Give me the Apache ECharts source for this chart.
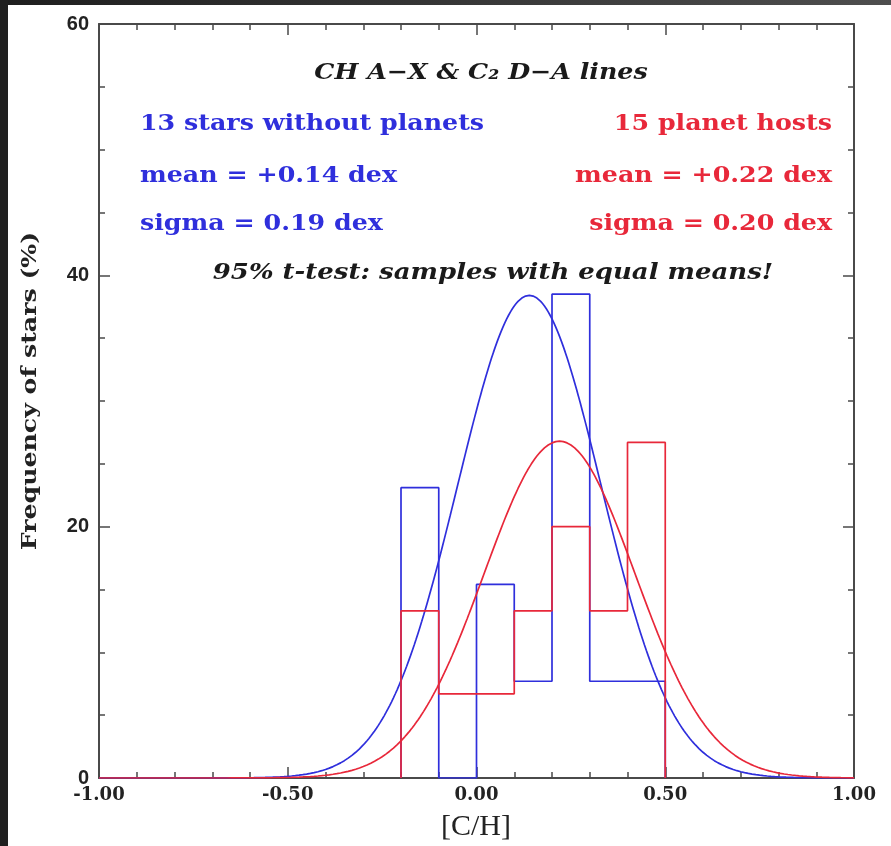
<!DOCTYPE html>
<html>
<head>
<meta charset="utf-8">
<script src="https://cdn.jsdelivr.net/npm/echarts@6/dist/echarts.min.js"></script>
<style>
  html, body { margin: 0; padding: 0; background: #ffffff; }
  #chart { width: 891px; height: 846px; }
</style>
</head>
<body>
<div id="chart"></div>
<script>
// [C/H] histogram bins (bin edges in dex)
const binEdges = [-0.2, -0.1, 0.0, 0.1, 0.2, 0.3, 0.4, 0.5];
// Frequency of stars (%) per bin
const freqNoPlanets = [23.1, 0.0, 15.4, 7.7, 38.5, 7.7, 7.7];   // 13 stars without planets
const freqHosts     = [13.3, 6.7, 6.7, 13.3, 20.0, 13.3, 26.7]; // 15 planet hosts
// Gaussian fits: mean, sigma (dex) and peak height (%)
const fitMean  = [0.14, 0.22];
const fitSigma = [0.19, 0.20];
const fitPeak  = [38.4, 26.8];
// Axis tick labels
const xTickLabels = ['-1.00', '-0.50', '0.00', '0.50', '1.00'];
const yTickLabels = ['0', '20', '40', '60'];

const BLUE = '#2f2fdc';
const RED = '#e8283a';
const AXIS = '#4a4a4a';
const SERIF = '"DejaVu Serif", serif';

function stepOutline(vals) {
  const pts = [[binEdges[0], 0]];
  vals.forEach((v, i) => {
    pts.push([binEdges[i], v]);
    pts.push([binEdges[i + 1], v]);
  });
  pts.push([binEdges[binEdges.length - 1], 0]);
  return pts;
}

function gaussCurve(k) {
  const pts = [];
  for (let i = 0; i <= 400; i++) {
    const x = -1 + i * 0.005;
    const d = x - fitMean[k];
    pts.push([x, fitPeak[k] * Math.exp(-d * d / (2 * fitSigma[k] * fitSigma[k]))]);
  }
  return pts;
}

const xLabelMap = {};
[-1, -0.5, 0, 0.5, 1].forEach((v, i) => { xLabelMap[v.toFixed(2)] = xTickLabels[i]; });
const yLabelMap = {};
[0, 20, 40, 60].forEach((v, i) => { yLabelMap[v] = yTickLabels[i]; });

function xAxisCfg(pos, showLabel) {
  return {
    type: 'value', position: pos, min: -1, max: 1, interval: 0.5,
    axisLine: { show: true, onZero: false, lineStyle: { color: AXIS, width: 2 } },
    axisTick: { show: true, inside: true, length: 11, lineStyle: { color: AXIS, width: 1.5 } },
    minorTick: { show: true, splitNumber: 5, length: 6, lineStyle: { color: AXIS, width: 1.5 } },
    splitLine: { show: false },
    axisLabel: {
      show: showLabel, margin: 8, color: '#222',
      fontFamily: SERIF, fontWeight: 'bold', fontSize: 18,
      formatter: v => xLabelMap[v.toFixed(2)] || ''
    }
  };
}
function yAxisCfg(pos, showLabel) {
  return {
    type: 'value', position: pos, min: 0, max: 60, interval: 20,
    axisLine: { show: true, onZero: false, lineStyle: { color: AXIS, width: 2 } },
    axisTick: { show: true, inside: true, length: 11, lineStyle: { color: AXIS, width: 1.5 } },
    minorTick: { show: true, splitNumber: 4, length: 6, lineStyle: { color: AXIS, width: 1.5 } },
    splitLine: { show: false },
    axisLabel: {
      show: showLabel, margin: 10, color: '#222',
      fontFamily: '"Liberation Sans", Arial, sans-serif', fontWeight: 'bold', fontSize: 20,
      formatter: v => (yLabelMap[v] !== undefined ? yLabelMap[v] : '')
    }
  };
}

function lineSeries(name, data, color, z) {
  return {
    name, type: 'line', data, xAxisIndex: 0, yAxisIndex: 0,
    showSymbol: false, symbol: 'none', silent: true, z,
    lineStyle: { color, width: 1.7 }, animation: false
  };
}

// wide bold serif annotation text (horizontally stretched)
function txt(x, y, text, color, align, italic, sx) {
  return {
    type: 'text', x, y, z: 20, scaleX: sx || 1.15, scaleY: 1,
    style: {
      text, fill: color, align, verticalAlign: 'middle',
      font: (italic ? 'italic ' : '') + 'bold 22px ' + SERIF
    }
  };
}

const chart = echarts.init(document.getElementById('chart'), null, { renderer: 'canvas' });
chart.setOption({
  backgroundColor: '#ffffff',
  animation: false,
  grid: { left: 99, right: 37, top: 24, bottom: 68, containLabel: false },
  xAxis: [xAxisCfg('bottom', true), xAxisCfg('top', false)],
  yAxis: [yAxisCfg('left', true), yAxisCfg('right', false)],
  series: [
    lineSeries('fit-noplanets', gaussCurve(0), BLUE, 2),
    lineSeries('hist-noplanets', stepOutline(freqNoPlanets), BLUE, 3),
    lineSeries('fit-hosts', gaussCurve(1), RED, 4),
    lineSeries('hist-hosts', stepOutline(freqHosts), RED, 5)
  ],
  graphic: [
    // dark window frame strips
    { type: 'rect', shape: { x: 0, y: 0, width: 891, height: 5 }, z: 30,
      style: { fill: new echarts.graphic.LinearGradient(0, 0, 1, 0, [
        { offset: 0, color: '#1e1e1e' }, { offset: 1, color: '#4e4e4e' }]) } },
    { type: 'rect', shape: { x: 0, y: 0, width: 8, height: 846 }, z: 30, style: { fill: '#202020' } },
    // axis titles
    { type: 'text', x: 476, y: 827, z: 20,
      style: { text: '[C/H]', fill: '#222', align: 'center', verticalAlign: 'middle',
               font: '30px "Liberation Serif", serif' } },
    { type: 'text', x: 31, y: 391, rotation: Math.PI / 2, scaleX: 1.2, z: 20,
      style: { text: 'Frequency of stars (%)', fill: '#222', align: 'center', verticalAlign: 'middle',
               font: 'bold 21px ' + SERIF } },
    // annotations
    txt(481, 73, 'CH A\u2212X & C\u2082 D\u2212A lines', '#1a1a1a', 'center', true),
    txt(140, 124, '13 stars without planets', BLUE, 'left'),
    txt(832, 124, '15 planet hosts', RED, 'right'),
    txt(140, 176, 'mean = +0.14 dex', BLUE, 'left'),
    txt(832, 176, 'mean = +0.22 dex', RED, 'right'),
    txt(140, 224, 'sigma = 0.19 dex', BLUE, 'left'),
    txt(832, 224, 'sigma = 0.20 dex', RED, 'right'),
    txt(493, 273, '95% t-test: samples with equal means!', '#1a1a1a', 'center', true, 1.18)
  ]
});
</script>
</body>
</html>
